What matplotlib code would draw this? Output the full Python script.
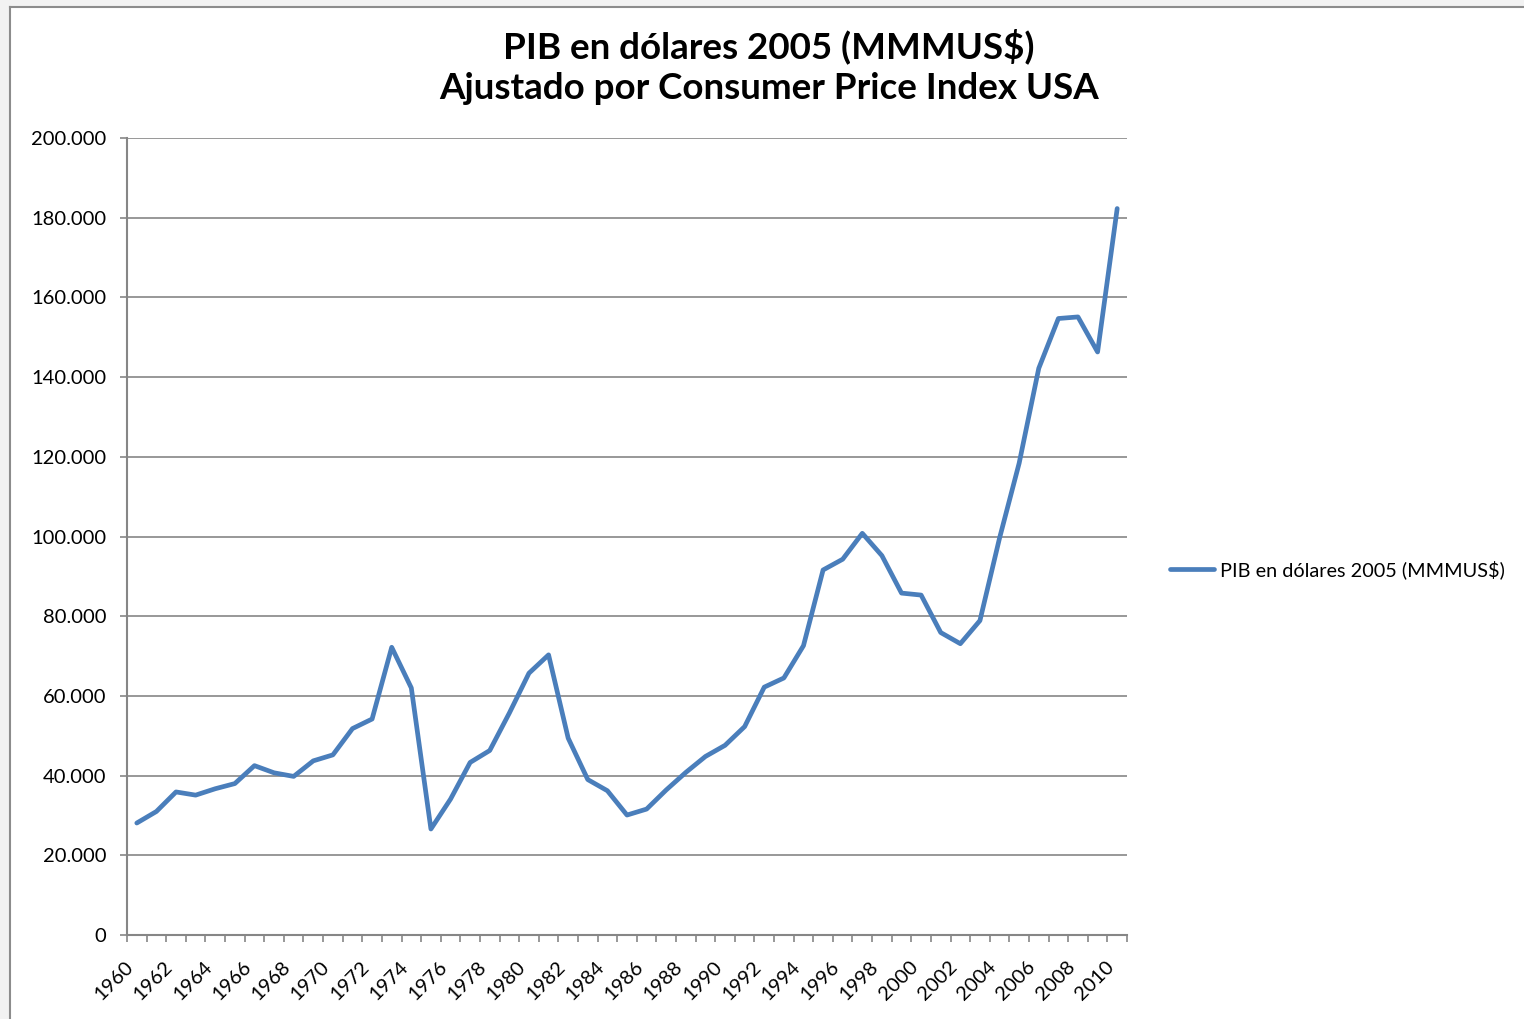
import numpy as np
import matplotlib
matplotlib.use("Agg")
import matplotlib.pyplot as plt
from matplotlib.ticker import FixedLocator, FuncFormatter
from matplotlib.patches import Rectangle
from matplotlib.lines import Line2D
from matplotlib.transforms import ScaledTranslation

plt.rcParams['font.family'] = ['Lato', 'DejaVu Sans']

years = list(range(1960, 2011))
pib = [28100, 31000, 35900, 35100, 36700, 38000, 42500, 40700, 39800, 43700,
       45200, 51800, 54200, 72200, 62000, 26600, 34100, 43300, 46300, 55700,
       65700, 70300, 49400, 39000, 36200, 30100, 31600, 36400, 40800, 44800,
       47600, 52300, 62200, 64500, 72600, 91600, 94300, 100800, 95200, 85800,
       85300, 75900, 73100, 78900, 99600, 118400, 142200, 154700, 155100, 146300,
       182300]
serie = "PIB en dólares 2005 (MMMUS$)"
titulo = "PIB en dólares 2005 (MMMUS$)\nAjustado por Consumer Price Index USA"

W, H = 1524, 1019
fig = plt.figure(figsize=(W / 100, H / 100), dpi=100, facecolor="white")

# marco gris alrededor del área del gráfico
fig.add_artist(Rectangle((0, 0), 9 / W, 1, transform=fig.transFigure,
                         facecolor="#f2f2f2", edgecolor="none"))
fig.add_artist(Rectangle((0, 1 - 6 / H), 1, 6 / H, transform=fig.transFigure,
                         facecolor="#f2f2f2", edgecolor="none"))
fig.add_artist(Line2D([10 / W, 10 / W], [0, 1 - 7 / H], transform=fig.transFigure,
                      color="#8c8c8c", lw=1.5))
fig.add_artist(Line2D([10 / W, 1], [1 - 7 / H, 1 - 7 / H], transform=fig.transFigure,
                      color="#8c8c8c", lw=1.5))

ax = fig.add_axes([127 / W, 1 - 935 / H, 1000 / W, 797 / H])
x = np.arange(len(years))
ax.plot(x, pib, color="#4a7ebb", lw=3.4, solid_joinstyle="round",
        solid_capstyle="round", label=serie, zorder=3)

ax.set_xlim(-0.5, len(years) - 0.5)
ax.set_ylim(0, 200000)
ax.set_yticks(np.arange(0, 200001, 20000))
ax.yaxis.set_major_formatter(FuncFormatter(lambda v, p: f"{int(v):,}".replace(",", ".")))
ax.grid(axis="y", color="#868686", lw=1.2)
ax.set_axisbelow(True)

for s in ["top", "right"]:
    ax.spines[s].set_visible(False)
for s in ["left", "bottom"]:
    ax.spines[s].set_color("#868686")
    ax.spines[s].set_linewidth(1.5)

ax.tick_params(axis="y", length=5, width=1.2, color="#868686", pad=10,
               labelsize=14.5, labelcolor="black")

# marcas entre categorías, etiquetas cada dos años en el centro
ax.xaxis.set_major_locator(FixedLocator(np.arange(-0.5, len(years), 1)))
ax.xaxis.set_major_formatter(FuncFormatter(lambda v, p: ""))
ax.tick_params(axis="x", which="major", length=5, width=1.2, color="#868686")
ax.xaxis.set_minor_locator(FixedLocator(x[::2]))
ax.set_xticklabels([str(y) for y in years[::2]], minor=True)
ax.tick_params(axis="x", which="minor", length=0, pad=21, labelsize=14.5)
shift = ScaledTranslation(-6 / 100, 0, fig.dpi_scale_trans)
for lab in ax.get_xticklabels(minor=True):
    lab.set_rotation(45)
    lab.set_ha("right")
    lab.set_va("center")
    lab.set_rotation_mode("anchor")
    lab.set_transform(lab.get_transform() + shift)

fig.text(769 / W, 1 - 67 / H, titulo, ha="center", va="center",
         fontsize=26.5, fontweight="bold", linespacing=1.3)

ax.legend(loc="center left", bbox_to_anchor=(1.043, 0.458), frameon=False,
          fontsize=14.3, handlelength=2.2, handletextpad=0.3,
          borderaxespad=0, borderpad=0)

fig.savefig("out.png", dpi=100, facecolor=fig.get_facecolor())
